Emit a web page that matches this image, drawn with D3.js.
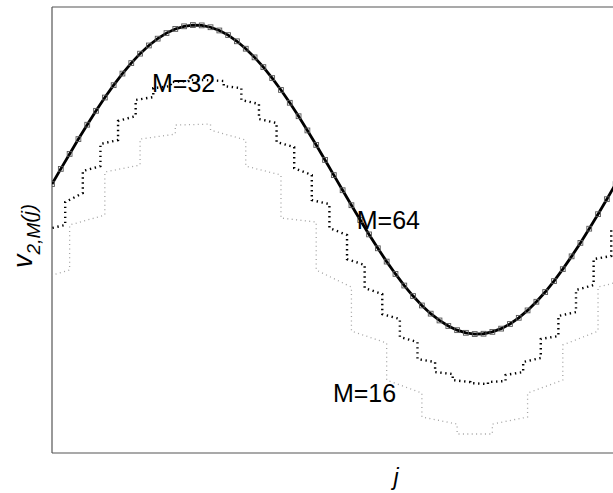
<!DOCTYPE html>
<html>
<head>
<meta charset="utf-8">
<script src="https://cdn.jsdelivr.net/npm/d3@7"></script>
<style>
  body { margin: 0; background: #fff; }
  svg { display: block; font-family: "Liberation Sans", Arial, sans-serif; }
</style>
</head>
<body>
<svg width="613" height="493"></svg>
<script>
// M=64: one value per sample, sample positions 0..64
const v64 = [
  -0.029, 0.069, 0.166, 0.262, 0.355, 0.445, 0.531, 0.611, 0.686, 0.754,
  0.815, 0.868, 0.912, 0.948, 0.975, 0.992, 1.000, 0.998, 0.986, 0.965,
  0.935, 0.895, 0.847, 0.791, 0.728, 0.657, 0.580, 0.497, 0.410, 0.318,
  0.224, 0.127, 0.029, -0.069, -0.166, -0.262, -0.355, -0.445, -0.531, -0.611,
  -0.686, -0.754, -0.815, -0.868, -0.912, -0.948, -0.975, -0.992, -1.000, -0.998,
  -0.986, -0.965, -0.935, -0.895, -0.847, -0.791, -0.728, -0.657, -0.580, -0.497,
  -0.410, -0.318, -0.224, -0.127, -0.029
];

// M=32: each block covers 2 samples, value at block start and block end
const v32start = [
  -0.320, -0.146, 0.055, 0.230, 0.379, 0.515, 0.592, 0.631, 0.644, 0.644,
  0.605, 0.515, 0.392, 0.243, 0.074, -0.133, -0.314, -0.515, -0.702, -0.871,
  -1.019, -1.162, -1.246, -1.298, -1.317, -1.311, -1.265, -1.181, -1.032, -0.883,
  -0.715, -0.515, -0.320
];
const v32end = [
  -0.294, -0.087, 0.087, 0.256, 0.411, 0.534, 0.605, 0.638, 0.644, 0.638,
  0.592, 0.489, 0.366, 0.210, 0.029, -0.159, -0.359, -0.553, -0.741, -0.903,
  -1.052, -1.181, -1.259, -1.311, -1.324, -1.304, -1.246, -1.155, -1.013, -0.858,
  -0.683, -0.495, -0.320
];

// M=16: each block covers 4 samples
const v16start = [
  -0.650, -0.294, 0.049, 0.262, 0.353, 0.320, 0.087, -0.249, -0.586,
  -0.981, -1.298, -1.537, -1.647, -1.583, -1.382, -1.071, -0.696
];
const v16end = [
  -0.586, -0.230, 0.094, 0.294, 0.359, 0.256, 0.029, -0.275, -0.696,
  -1.058, -1.382, -1.583, -1.647, -1.537, -1.298, -0.981, -0.638
];

const labels = [
  { text: 'M=32', x: 11.35, y: 0.566 },
  { text: 'M=64', x: 34.6, y: -0.320 },
  { text: 'M=16', x: 31.9, y: -1.44 }
];

const svg = d3.select('svg');
const margin = { top: 7, left: 52, bottom: 40 };
const width = 613, height = 493;

const xScale = d3.scaleLinear().domain([0, 63.7]).range([margin.left, width]);
const yScale = d3.scaleLinear().domain([-1.770, 1.117]).range([height - margin.bottom, margin.top]);

svg.append('clipPath').attr('id', 'plot')
  .append('rect')
    .attr('x', margin.left).attr('y', margin.top)
    .attr('width', width - margin.left)
    .attr('height', height - margin.bottom - margin.top);

// axes frame
const frame = svg.append('g').attr('stroke', '#555').attr('stroke-width', 1.2);
frame.append('line')
  .attr('x1', xScale.range()[0]).attr('x2', width)
  .attr('y1', yScale.range()[1]).attr('y2', yScale.range()[1]);
frame.append('line')
  .attr('x1', xScale.range()[0]).attr('x2', width)
  .attr('y1', yScale.range()[0]).attr('y2', yScale.range()[0]);
frame.append('line')
  .attr('x1', xScale.range()[0]).attr('x2', xScale.range()[0])
  .attr('y1', yScale.range()[1]).attr('y2', yScale.range()[0]);

// block staircase -> polyline points
const blocks = (starts, ends, size, offset) => {
  const pts = [];
  starts.forEach((s, k) => {
    const c = k * size + offset;
    pts.push([c - size / 2, s]);
    pts.push([c + size / 2, ends[k]]);
  });
  return pts;
};

const line = d3.line()
  .x(d => xScale(d[0]))
  .y(d => yScale(d[1]));

const g = svg.append('g').attr('clip-path', 'url(#plot)');

g.append('path')
  .datum(blocks(v16start, v16end, 4, 0))
  .attr('d', line)
  .attr('fill', 'none')
  .attr('stroke', '#a3a3a3')
  .attr('stroke-width', 1.3)
  .attr('stroke-dasharray', '1,3.4');

g.append('path')
  .datum(blocks(v32start, v32end, 2, 0.5))
  .attr('d', line)
  .attr('fill', 'none')
  .attr('stroke', '#000')
  .attr('stroke-width', 2.4)
  .attr('stroke-dasharray', '1.4,3.6');

const pts64 = v64.map((v, i) => [i, v]);
g.append('path')
  .datum(pts64)
  .attr('d', line)
  .attr('fill', 'none')
  .attr('stroke', '#000')
  .attr('stroke-width', 2.8);

g.selectAll('rect.mk').data(pts64)
  .enter().append('rect')
    .attr('class', 'mk')
    .attr('x', d => xScale(d[0]) - 2.4)
    .attr('y', d => yScale(d[1]) - 2.4)
    .attr('width', 4.8).attr('height', 4.8)
    .attr('fill', 'none')
    .attr('stroke', '#555')
    .attr('stroke-width', 0.9);

svg.selectAll('text.lab').data(labels)
  .enter().append('text')
    .attr('class', 'lab')
    .attr('x', d => xScale(d.x))
    .attr('y', d => yScale(d.y))
    .attr('font-size', 25)
    .attr('fill', '#000')
    .text(d => d.text);

// axis titles
svg.append('text')
  .attr('x', 396).attr('y', 485)
  .attr('text-anchor', 'middle')
  .attr('font-size', 23)
  .attr('font-style', 'italic')
  .text('j');

const yt = svg.append('text')
  .attr('transform', 'translate(32, 236) rotate(-90)')
  .attr('text-anchor', 'middle')
  .attr('font-size', 27);
yt.append('tspan').attr('font-style', 'italic').text('v');
yt.append('tspan').attr('font-size', 19).attr('dy', 8).attr('font-style', 'italic').text('2,M');
yt.append('tspan').attr('font-size', 21).attr('dy', -4).attr('font-style', 'italic').text('(j)');
</script>
</body>
</html>
